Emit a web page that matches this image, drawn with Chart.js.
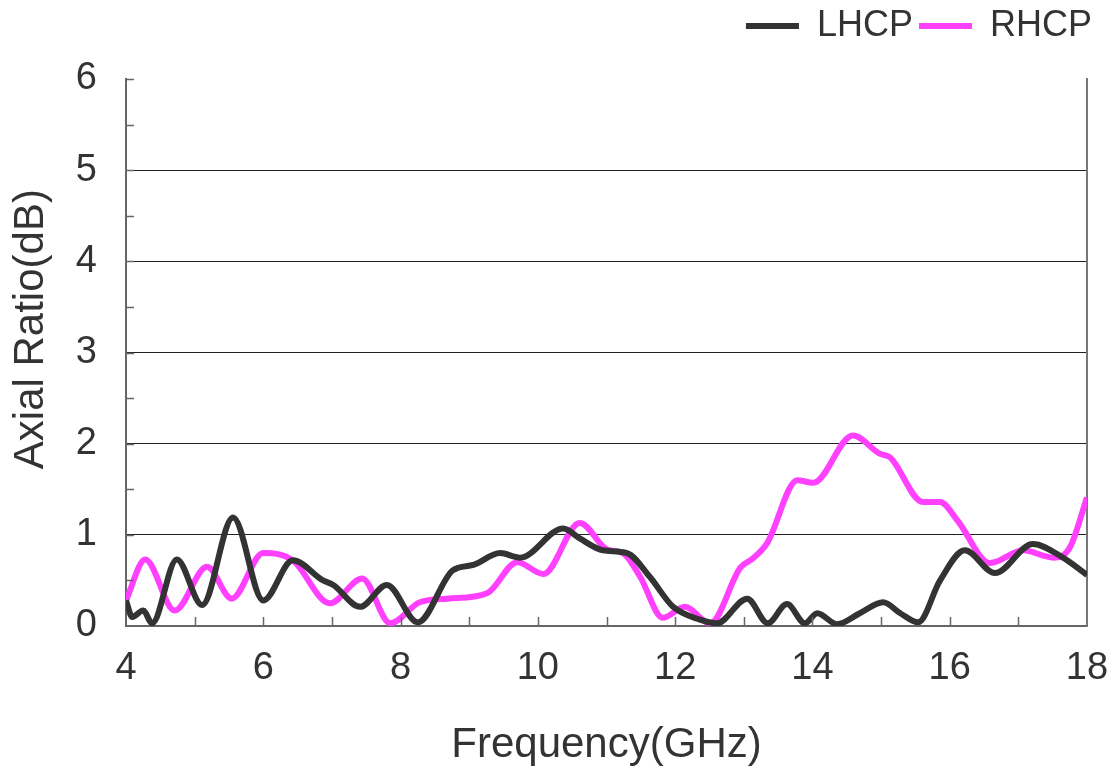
<!DOCTYPE html>
<html>
<head>
  <title>Axial Ratio</title>
  <script src="https://cdn.jsdelivr.net/npm/chart.js"></script>
  <style>
    html, body { margin: 0; padding: 0; background: #fff; }
    #wrap { position: relative; width: 1110px; height: 771px; }
  </style>
</head>
<body>
  <div id="wrap"><canvas id="ar-chart"></canvas></div>

  <script>
    // values
    var freqL = [4.0, 4.09, 4.25, 4.38, 4.74, 5.11, 5.56, 6.0, 6.43, 6.87, 7.02, 7.41, 7.80, 8.25, 8.76, 9.06, 9.45, 9.74, 10.37, 10.61, 10.95, 11.30, 11.63, 11.97, 12.36, 12.61, 13.05, 13.35, 13.63, 13.89, 14.07, 14.36, 14.69, 15.03, 15.28, 15.54, 15.86, 16.22, 16.66, 17.21, 17.65, 18.0];
    var lhcp  = [0.28, 0.10, 0.17, 0.03, 0.73, 0.23, 1.19, 0.28, 0.72, 0.50, 0.45, 0.21, 0.45, 0.04, 0.61, 0.67, 0.80, 0.75, 1.07, 0.96, 0.83, 0.80, 0.54, 0.21, 0.07, 0.03, 0.30, 0.03, 0.24, 0.03, 0.14, 0.02, 0.14, 0.26, 0.14, 0.04, 0.50, 0.83, 0.58, 0.90, 0.75, 0.56];

    var freqR = [4.0, 4.28, 4.71, 5.18, 5.54, 6.0, 6.43, 6.97, 7.44, 7.85, 8.28, 8.68, 9.26, 9.70, 10.08, 10.61, 11.01, 11.24, 11.49, 11.82, 12.14, 12.51, 12.95, 13.13, 13.34, 13.78, 14.01, 14.59, 14.98, 15.13, 15.61, 15.86, 16.11, 16.59, 17.07, 17.51, 17.75, 18.0];
    var rhcp  = [0.28, 0.73, 0.17, 0.65, 0.30, 0.80, 0.72, 0.25, 0.52, 0.03, 0.26, 0.30, 0.36, 0.70, 0.57, 1.13, 0.84, 0.80, 0.54, 0.09, 0.21, 0.03, 0.64, 0.74, 0.91, 1.60, 1.57, 2.09, 1.89, 1.85, 1.36, 1.36, 1.16, 0.69, 0.83, 0.75, 0.86, 1.41];

    var xLabels = [4, 6, 8, 10, 12, 14, 16, 18];
    var yLabels = [0, 1, 2, 3, 4, 5, 6];

    var fontFam = "'Liberation Sans', Arial, sans-serif";

    function pts(xs, ys) {
      return xs.map(function (x, i) { return { x: x, y: ys[i] }; });
    }

    // short tick marks pointing into the plot
    var inwardTicks = {
      id: "inwardTicks",
      afterInit: function (chart) {
        // leave more room under the legend
        var legend = chart.legend;
        var fit = legend.fit;
        legend.fit = function () {
          fit.call(this);
          this.height += 25;
        };
      },
      afterDatasetsDraw: function (chart) {
        var ctx = chart.ctx;
        var area = chart.chartArea;
        var xs = chart.scales.x, ys = chart.scales.y;
        ctx.save();
        ctx.strokeStyle = "#666";
        ctx.lineWidth = 1.5;
        ctx.beginPath();
        xs.ticks.forEach(function (t) {
          var px = Math.round(xs.getPixelForValue(t.value)) + 0.5;
          if (t.value <= 4 || t.value >= 18) return;
          ctx.moveTo(px, area.bottom);
          ctx.lineTo(px, area.bottom - 9);
        });
        ys.ticks.forEach(function (t) {
          var py = Math.round(ys.getPixelForValue(t.value)) + 0.5;
          if (t.value <= 0) return;
          ctx.moveTo(area.left, py);
          ctx.lineTo(area.left + 8, py);
        });
        ctx.stroke();
        ctx.restore();
      }
    };

    var ctx = document.getElementById("ar-chart").getContext("2d");
    new Chart(ctx, {
      type: "line",
      data: {
        datasets: [{
          label: "LHCP",
          data: pts(freqL, lhcp),
          borderColor: "#333333",
          backgroundColor: "#333333",
          borderWidth: 6,
          pointRadius: 0,
          cubicInterpolationMode: "monotone"
        }, {
          label: "RHCP",
          data: pts(freqR, rhcp),
          borderColor: "#ff40ff",
          backgroundColor: "#ff40ff",
          borderWidth: 6,
          pointRadius: 0,
          cubicInterpolationMode: "monotone"
        }]
      },
      options: {
        responsive: true,
        maintainAspectRatio: false,
        animation: false,
        layout: { padding: { left: 0, right: 12, top: 2, bottom: 0 } },
        scales: {
          x: {
            type: "linear",
            min: 4,
            max: 18,
            afterFit: function (s) {
              s.height = 145;
              s.paddingLeft = 0;
              s.paddingRight = 0;
            },
            ticks: {
              stepSize: 1,
              autoSkip: false,
              maxRotation: 0,
              padding: 20,
              color: "#333",
              font: { family: fontFam, size: 38 },
              callback: function (v) { return xLabels.indexOf(v) >= 0 ? String(v) : ""; }
            },
            grid: { display: false, drawTicks: false },
            border: { display: true, color: "#666", width: 2 },
            title: {
              display: true,
              text: "Frequency(GHz)",
              color: "#333",
              font: { family: fontFam, size: 42 },
              padding: { top: 0, bottom: 0 }
            }
          },
          y: {
            min: 0,
            max: 6,
            afterFit: function (s) { s.width = 126; },
            ticks: {
              stepSize: 0.5,
              autoSkip: false,
              padding: 29,
              color: "#333",
              font: { family: fontFam, size: 38 },
              callback: function (v) { return yLabels.indexOf(v) >= 0 ? String(v) : ""; }
            },
            grid: {
              drawTicks: false,
              lineWidth: 1,
              color: function (c) {
                var v = c.tick.value;
                return (v > 0 && v < 6 && Number.isInteger(v)) ? "#222" : "rgba(0,0,0,0)";
              }
            },
            border: { display: true, color: "#666", width: 2 },
            title: {
              display: true,
              text: "    Axial Ratio(dB)",
              color: "#333",
              font: { family: fontFam, size: 42 },
              padding: { top: 6, bottom: 0 }
            }
          },
          y2: {
            position: "right",
            min: 0,
            max: 6,
            afterFit: function (s) { s.width = 11; },
            ticks: { display: false },
            grid: { display: false, drawTicks: false },
            border: { display: true, color: "#777", width: 2 }
          }
        },
        plugins: {
          legend: {
            position: "top",
            align: "end",
            labels: {
              color: "#333",
              font: { family: fontFam, size: 36 },
              boxWidth: 53,
              usePointStyle: true,
              pointStyle: "line",
              pointStyleWidth: 53,
              padding: 6
            }
          },
          tooltip: { enabled: false }
        }
      },
      plugins: [inwardTicks]
    });
  </script>
</body>
</html>
